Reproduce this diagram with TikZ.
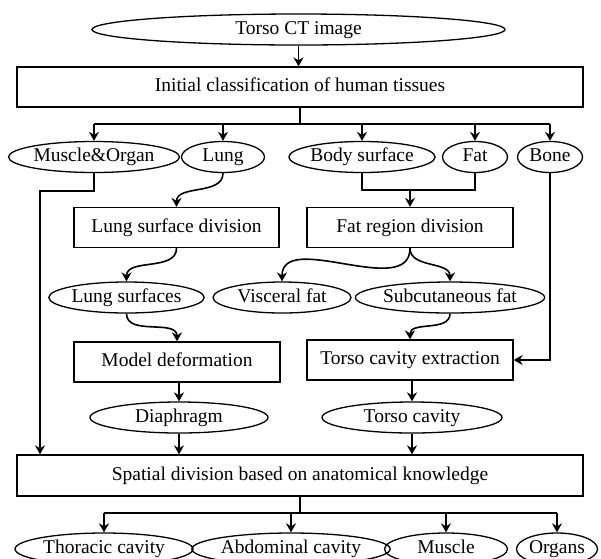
\documentclass[tikz,border=0pt]{standalone}
\usepackage{fontspec}
\setmainfont{Liberation Serif}
\usetikzlibrary{shapes.geometric,arrows.meta}

\begin{document}
\begin{tikzpicture}[x=1pt,y=-1pt]
  \useasboundingbox (0,0) rectangle (601,558);
  \tikzset{oval/.style={ellipse,draw,line width=1.3pt,inner sep=0pt,minimum height=31pt,
             text height=13pt,text depth=4pt,font=\fontsize{19.5}{21}\selectfont},
           stepbox/.style={rectangle,draw,line width=1.3pt,inner sep=0pt,minimum height=40pt,
             text height=13pt,text depth=4pt,font=\fontsize{19.5}{21}\selectfont},
           flow/.style={line width=1.6pt,-{Stealth[length=9pt,width=10pt,inset=3pt]}},
           bus/.style={line width=2.4pt}}

 % input and first step
  \node[oval,minimum width=413pt] (ct) at (298.5,29.5) {Torso CT image};
  \node[stepbox,minimum width=566pt] (init) at (300,87) {Initial classification of human tissues};
  \draw[flow] (ct.south) -- (ct.south |- init.north);

 % tissue classes
  \node[oval,minimum width=152pt] (muscorg) at (94,157) {Muscle\&Organ};
  \node[oval,minimum width=83pt] (lung) at (223,157) {Lung};
  \node[oval,minimum width=140pt] (body) at (362,157) {Body surface};
  \node[oval,minimum width=65pt] (fat) at (475,157) {Fat};
  \node[oval,minimum width=65pt] (bone) at (550,157) {Bone};

  \coordinate (topbus) at (300,124);
  \draw[bus] (init.south) -- (topbus);
  \draw[bus] (muscorg.north |- topbus) -- (bone.north |- topbus);
  \foreach \n in {muscorg,lung,body,fat,bone}
    \draw[flow] (\n.north |- topbus) -- (\n.north);

 % second step
  \node[stepbox,minimum width=205pt] (lsd) at (176.5,227.5) {Lung surface division};
  \node[stepbox,minimum width=206pt] (frd) at (410,227.5) {Fat region division};
  \draw[flow] (lung.south) to[out=-90,in=90] (lsd.north);

  \coordinate (fatjoin) at (410,190);
  \draw[line width=1.6pt] (body.south) |- (fatjoin) -| (fat.south);
  \draw[flow] (fatjoin) -- (frd.north);

 % surfaces and fat regions
  \node[oval,minimum width=153pt] (lsurf) at (126.5,297.5) {Lung surfaces};
  \node[oval,minimum width=138pt] (visc) at (282,297.5) {Visceral fat};
  \node[oval,minimum width=180pt] (subc) at (450,297.5) {Subcutaneous fat};
  \draw[flow] (lsd.south) to[out=-90,in=90] (lsurf.north);
  \draw[flow] (frd.south) to[out=-90,in=90] (visc.north);
  \draw[flow] (frd.south) to[out=-90,in=90] (subc.north);

 % third step
  \node[stepbox,minimum width=206pt] (model) at (177,362) {Model deformation};
  \node[stepbox,minimum width=206pt] (tce) at (410,360) {Torso cavity extraction};
  \draw[flow] (lsurf.south) to[out=-90,in=90] (model.north);
  \draw[flow] (subc.south) to[out=-90,in=90] (tce.north);
  \draw[flow] (bone.south) |- (tce.east);

  \node[oval,minimum width=178pt] (diaph) at (179,417.5) {Diaphragm};
  \node[oval,minimum width=180pt] (tcav) at (412,417.5) {Torso cavity};
  \draw[flow] (model.south -| diaph.north) -- (diaph.north);
  \draw[flow] (tce.south -| tcav.north) -- (tcav.north);

 % spatial division
  \node[stepbox,minimum width=566pt,minimum height=41pt] (spatial) at (300,475.5)
    {Spatial division based on anatomical knowledge};
  \coordinate (mobend) at (40,191);
  \draw[flow] (muscorg.south) |- (mobend) -- (mobend |- spatial.north);
  \draw[flow] (diaph.south) -- (diaph.south |- spatial.north);
  \draw[flow] (tcav.south) -- (tcav.south |- spatial.north);

 % output regions
  \node[oval,minimum width=178pt,minimum height=32pt] (thor) at (104,549) {Thoracic cavity};
  \node[oval,minimum width=183pt,minimum height=32pt] (abd) at (291,549) {Abdominal cavity};
  \node[oval,minimum width=123pt,minimum height=32pt] (musc) at (446,549) {Muscle};
  \node[oval,minimum width=81pt,minimum height=32pt] (org) at (557,549) {Organs};

  \coordinate (lowbus) at (300,513);
  \draw[bus] (spatial.south) -- (lowbus);
  \draw[bus] (thor.north |- lowbus) -- (org.north |- lowbus);
  \foreach \n in {thor,abd,musc,org}
    \draw[flow] (\n.north |- lowbus) -- (\n.north);
\end{tikzpicture}
\end{document}
